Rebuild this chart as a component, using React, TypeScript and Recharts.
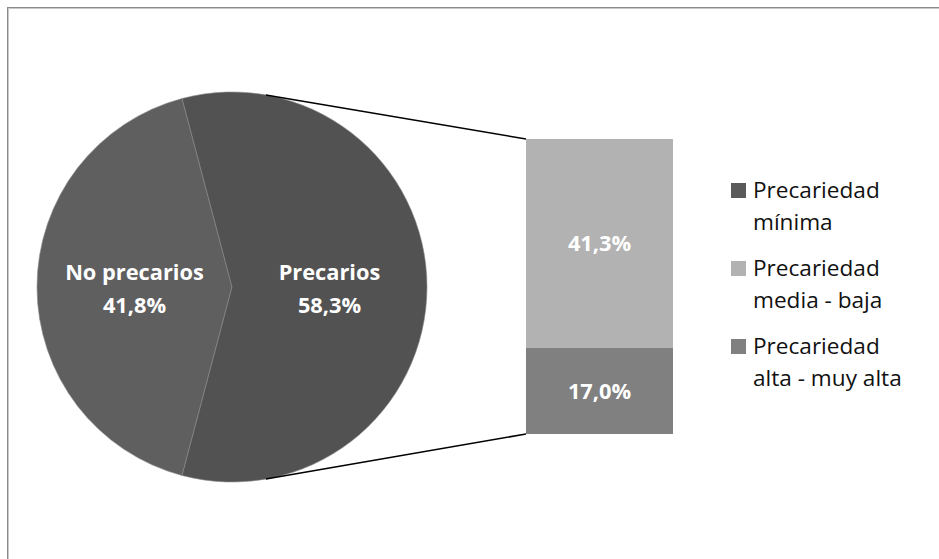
import React from "react";
import { PieChart, Pie, Cell, BarChart, Bar, XAxis, YAxis, LabelList } from "recharts";

const pieCategories = ["No precarios", "Precarios"];
const pieValues = [41.8, 58.3];
const pieColors = ["#5f5f5f", "#525252"];

const barCategories = ["Precariedad media - baja", "Precariedad alta - muy alta"];
const barValues = [41.3, 17.0];
const barColors = ["#b2b2b2", "#808080"];

const legendLines = [
  ["Precariedad", "mínima"],
  ["Precariedad", "media - baja"],
  ["Precariedad", "alta - muy alta"],
];
const legendColors = ["#5a5a5a", "#b2b2b2", "#808080"];

const FONT = "'Open Sans', Lato, sans-serif";

const PIE_CX = 232;
const PIE_CY = 287;
const PIE_R = 195;
const BAR_LEFT = 526;
const BAR_TOP = 139;
const BAR_W = 147;
const BAR_H = 295;
const CONNECT_ANGLE = 80;

const fmt = (v: number) => v.toFixed(1).replace(".", ",") + "%";

const pieData = pieCategories.map((name, i) => ({ name, value: pieValues[i] }));
const barRow: Record<string, any> = { name: "Precarios" };
barCategories.forEach((c, i) => (barRow["s" + i] = barValues[i]));
const barData = [barRow];

const total = pieValues.reduce((a, b) => a + b, 0);
const firstSpan = (pieValues[0] / total) * 360;
const startAngle = 180 - firstSpan / 2;
const endAngle = startAngle + 360;

const RAD = Math.PI / 180;

const renderPieLabel = (props: any) => {
  const { cx, cy, midAngle, outerRadius, name, value } = props;
  const r = outerRadius * 0.5;
  const x = cx + r * Math.cos(-midAngle * RAD);
  const y = cy + r * Math.sin(-midAngle * RAD);
  return (
    <text x={x} textAnchor="middle" fill="#ffffff" fontFamily={FONT} fontWeight={700} fontSize={21.8}>
      <tspan x={x} y={y - 7}>{name}</tspan>
      <tspan x={x} y={y + 26}>{fmt(value)}</tspan>
    </text>
  );
};

const barTotal = barValues.reduce((a, b) => a + b, 0);

export default function App() {
  const topAngle = CONNECT_ANGLE * RAD;
  const p1 = { x: PIE_CX + PIE_R * Math.cos(topAngle), y: PIE_CY - PIE_R * Math.sin(topAngle) };
  const p2 = { x: PIE_CX + PIE_R * Math.cos(topAngle), y: PIE_CY + PIE_R * Math.sin(topAngle) };
  return (
    <div style={{ position: "absolute", left: 0, top: 0, width: 939, height: 559, background: "#fff", overflow: "hidden" }}>
      <div
        style={{
          position: "absolute",
          left: 7,
          top: 7,
          width: 960,
          height: 600,
          borderLeft: "1px solid #8a8a8a",
          borderTop: "1px solid #8a8a8a",
          boxShadow: "inset 1px 1px 0 #c8c8c8",
        }}
      />
      <div style={{ position: "absolute", left: 0, top: 0 }}>
        <PieChart width={470} height={559} margin={{ top: 0, right: 0, bottom: 0, left: 0 }}>
          <Pie
            data={pieData}
            dataKey="value"
            nameKey="name"
            cx={PIE_CX}
            cy={PIE_CY}
            outerRadius={PIE_R}
            innerRadius={0}
            startAngle={startAngle}
            endAngle={endAngle}
            stroke="#8a8a8a"
            strokeWidth={0.6}
            isAnimationActive={false}
            label={renderPieLabel}
            labelLine={false}
          >
            {pieData.map((d, i) => (
              <Cell key={d.name} fill={pieColors[i]} />
            ))}
          </Pie>
        </PieChart>
      </div>
      <div style={{ position: "absolute", left: BAR_LEFT, top: BAR_TOP }}>
        <BarChart width={BAR_W} height={BAR_H} data={barData} margin={{ top: 0, right: 0, bottom: 0, left: 0 }} barCategoryGap={0}>
          <XAxis dataKey="name" hide />
          <YAxis hide domain={[0, barTotal]} />
          <Bar dataKey="s1" stackId="a" fill={barColors[1]} isAnimationActive={false}>
            <LabelList
              dataKey="s1"
              position="center"
              formatter={(v: any) => fmt(Number(v))}
              fill="#ffffff"
              style={{ fontFamily: FONT, fontWeight: 700, fontSize: 21.8 }}
            />
          </Bar>
          <Bar dataKey="s0" stackId="a" fill={barColors[0]} isAnimationActive={false}>
            <LabelList
              dataKey="s0"
              position="center"
              formatter={(v: any) => fmt(Number(v))}
              fill="#ffffff"
              style={{ fontFamily: FONT, fontWeight: 700, fontSize: 21.8 }}
            />
          </Bar>
        </BarChart>
      </div>
      <svg width={939} height={559} style={{ position: "absolute", left: 0, top: 0, pointerEvents: "none" }}>
        <line x1={p1.x} y1={p1.y} x2={BAR_LEFT} y2={BAR_TOP} stroke="#000" strokeWidth={1.5} />
        <line x1={p2.x} y1={p2.y} x2={BAR_LEFT} y2={BAR_TOP + BAR_H} stroke="#000" strokeWidth={1.5} />
      </svg>
      <div style={{ position: "absolute", left: 731, top: 174, fontFamily: FONT, fontSize: 22.6, color: "#111", lineHeight: "32px" }}>
        {legendLines.map((lines, i) => (
          <div key={i} style={{ position: "relative", marginBottom: 14, paddingLeft: 22 }}>
            <div style={{ position: "absolute", left: 0, top: 9, width: 15, height: 15, background: legendColors[i] }} />
            <div>{lines[0]}</div>
            <div>{lines[1]}</div>
          </div>
        ))}
      </div>
    </div>
  );
}
